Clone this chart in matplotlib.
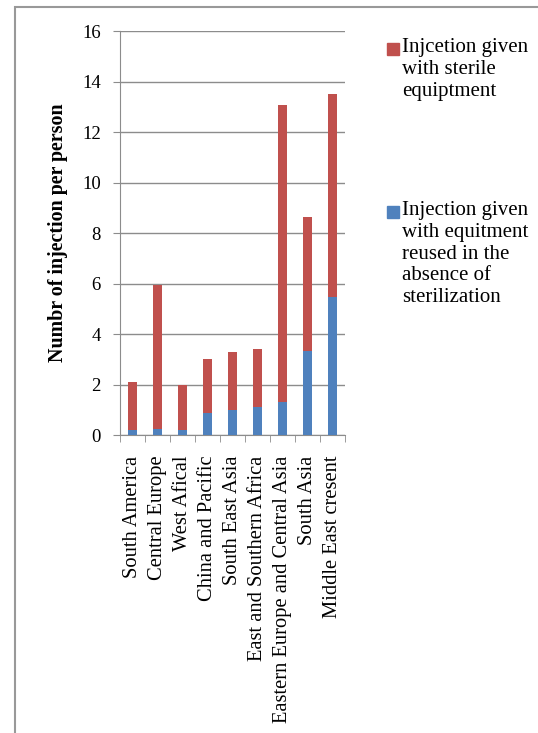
import matplotlib.pyplot as plt
from matplotlib.patches import Rectangle
import numpy as np

regions = ['South America', 'Central Europe', 'West Afical', 'China and Pacific',
           'South East Asia', 'East and Southern Africa',
           'Eastern Europe and Central Asia', 'South Asia', 'Middle East cresent']
reused = [0.2, 0.24, 0.19, 0.88, 0.99, 1.1, 1.29, 3.34, 5.48]
total = [2.09, 5.94, 1.98, 3.0, 3.29, 3.39, 13.08, 8.65, 13.49]
sterile = [t - r for t, r in zip(total, reused)]

label_sterile = 'Injcetion given\nwith sterile\nequiptment'
label_reused = 'Injection given\nwith equitment\nreused in the\nabsence of\nsterilization'

red = '#C0504D'
blue = '#4F81BD'
grid_col = '#8c8c8c'

plt.rcParams['font.family'] = ['Liberation Serif', 'DejaVu Serif']

fig = plt.figure(figsize=(5.38, 7.33), dpi=100)
ax = fig.add_axes([0.223, 0.4065, 0.418, 0.5512])

x = np.arange(len(regions))
ax.bar(x, reused, width=0.37, color=blue, zorder=3)
ax.bar(x, sterile, width=0.37, bottom=reused, color=red, zorder=3)

ax.set_xlim(-0.5, len(regions) - 0.5)
ax.set_ylim(0, 16)
ax.set_yticks(range(0, 17, 2))
ax.yaxis.grid(True, color=grid_col, lw=1)
ax.set_axisbelow(True)
for s in ['top', 'right']:
    ax.spines[s].set_visible(False)
for s in ['left', 'bottom']:
    ax.spines[s].set_color(grid_col)
ax.tick_params(axis='y', colors=grid_col, labelcolor='black', labelsize=13.5,
               length=5.4, pad=8.5)

ax.set_xticks(x)
ax.set_xticklabels(regions, rotation=90, fontsize=14.8)
ax.tick_params(axis='x', length=0, pad=15)
ax.set_xticks(np.arange(-0.5, len(regions)), minor=True)
ax.tick_params(axis='x', which='minor', length=5, color=grid_col)

ax.set_ylabel('Numbr of injection per person', fontsize=14.4, fontweight='bold')
ax.yaxis.set_label_coords(-0.232, 0.5)

# legend drawn by hand so each square sits on the first line
W, H = 538, 733
for col, lab, ytop in [(red, label_sterile, 43), (blue, label_reused, 206)]:
    fig.patches.append(Rectangle((387 / W, 1 - (ytop + 12) / H), 12 / W, 12 / H,
                                 transform=fig.transFigure, color=col))
    fig.text(402 / W, 1 - (ytop - 5) / H, lab, fontsize=15, va='top', ha='left',
             linespacing=1.2)

# page frame
fig.patches.append(Rectangle((15 / W, -0.1), 1.2, 1 - 7 / H + 0.1,
                             transform=fig.transFigure, fill=False,
                             edgecolor='#999999', lw=1.5))

fig.savefig('out.png', dpi=100)
